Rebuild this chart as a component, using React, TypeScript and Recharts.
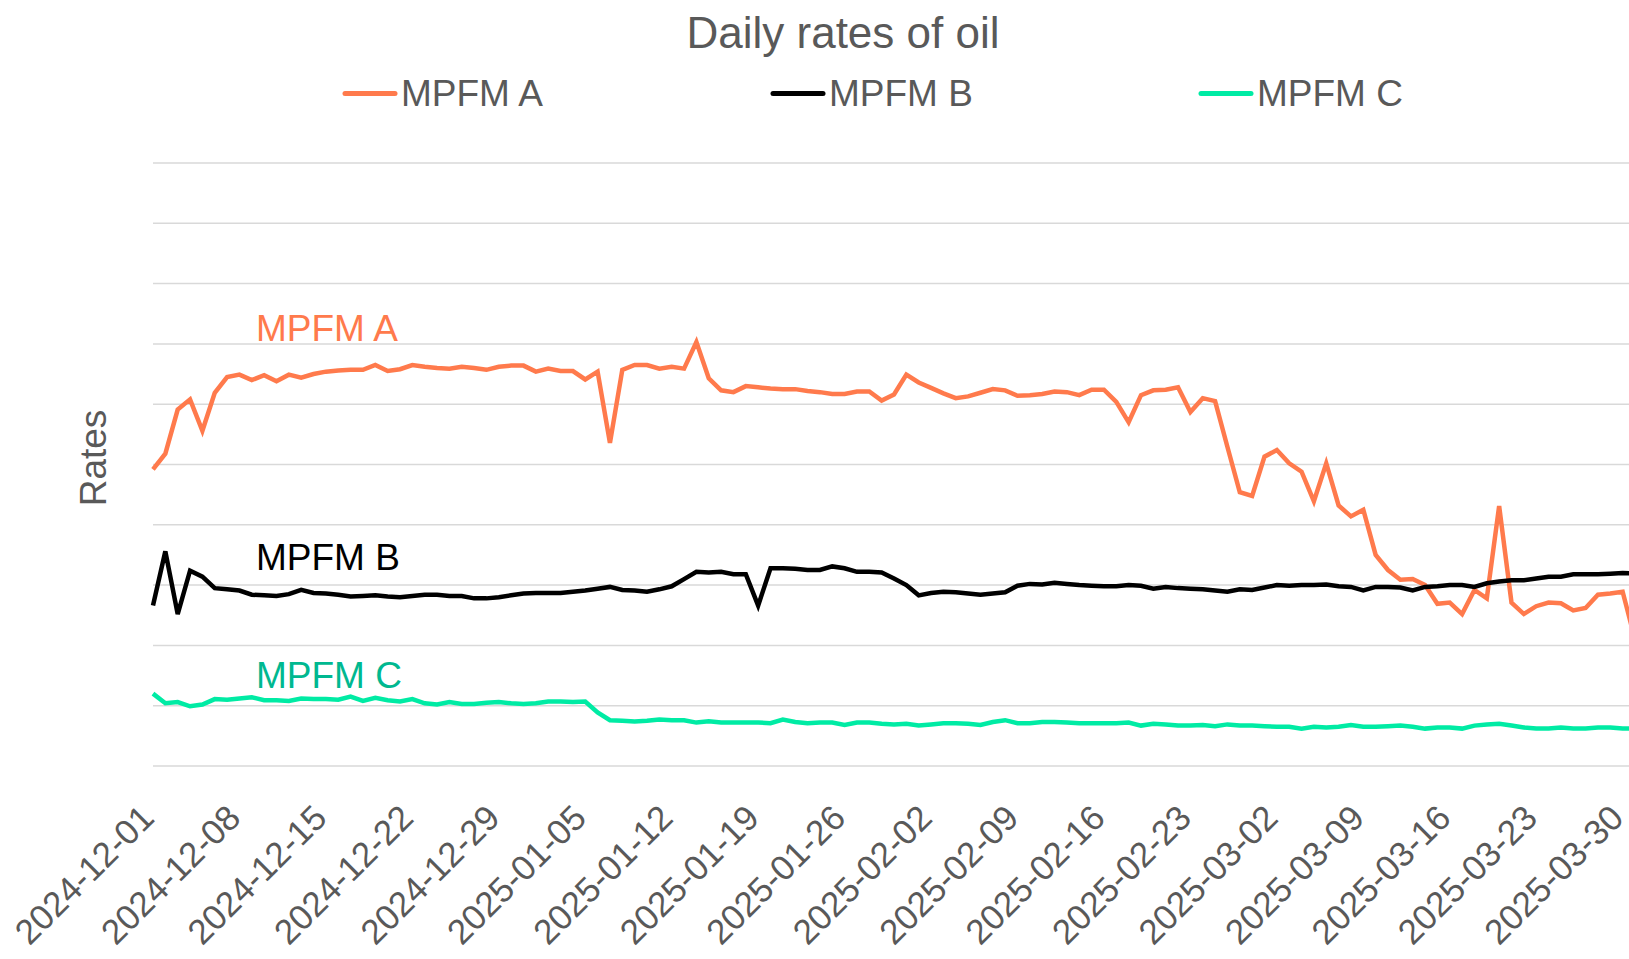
import React from 'react'
import { LineChart, Line, XAxis, YAxis, CartesianGrid } from 'recharts'

// daily dates, 2024-12-01 .. 2025-03-31
const startDate = '2024-12-01'
const dayCount = 121

const weekTicks = [
    '2024-12-01', '2024-12-08', '2024-12-15', '2024-12-22', '2024-12-29',
    '2025-01-05', '2025-01-12', '2025-01-19', '2025-01-26', '2025-02-02',
    '2025-02-09', '2025-02-16', '2025-02-23', '2025-03-02', '2025-03-09',
    '2025-03-16', '2025-03-23', '2025-03-30',
]

const mpfmA = [
    49.2, 51.8, 59.1, 60.8, 55.6, 61.9, 64.5, 64.9, 64.0, 64.8,
    63.8, 64.9, 64.4, 65.0, 65.4, 65.6, 65.7, 65.7, 66.5, 65.5,
    65.8, 66.5, 66.2, 66.0, 65.9, 66.2, 66.0, 65.7, 66.2, 66.4,
    66.4, 65.4, 65.9, 65.5, 65.5, 64.1, 65.4, 53.6, 65.7, 66.5,
    66.5, 65.9, 66.2, 65.9, 70.3, 64.3, 62.3, 62.0, 63.0, 62.8,
    62.6, 62.5, 62.5, 62.2, 62.0, 61.7, 61.7, 62.1, 62.1, 60.6,
    61.6, 64.9, 63.6, 62.7, 61.8, 61.0, 61.3, 61.9, 62.5, 62.3,
    61.4, 61.5, 61.7, 62.1, 62.0, 61.5, 62.4, 62.4, 60.4, 57.0,
    61.5, 62.3, 62.4, 62.8, 58.7, 61.0, 60.5, 52.9, 45.4, 44.8,
    51.3, 52.4, 50.2, 48.8, 43.9, 50.2, 43.2, 41.4, 42.5, 35.0,
    32.5, 30.9, 31.0, 30.0, 26.9, 27.1, 25.2, 29.2, 27.8, 43.1,
    27.1, 25.2, 26.5, 27.1, 27.0, 25.8, 26.2, 28.4, 28.6, 28.9,
    21.0,
]

const mpfmB = [
    26.6, 35.6, 25.2, 32.4, 31.4, 29.5, 29.3, 29.1, 28.4, 28.3,
    28.2, 28.5, 29.2, 28.7, 28.6, 28.4, 28.1, 28.2, 28.3, 28.1,
    28.0, 28.2, 28.4, 28.4, 28.2, 28.2, 27.8, 27.8, 28.0, 28.3,
    28.6, 28.7, 28.7, 28.7, 28.9, 29.1, 29.4, 29.7, 29.2, 29.1,
    28.9, 29.3, 29.8, 31.0, 32.2, 32.1, 32.2, 31.8, 31.8, 26.6,
    32.8, 32.8, 32.7, 32.5, 32.5, 33.1, 32.8, 32.2, 32.2, 32.1,
    31.1, 30.0, 28.3, 28.7, 28.9, 28.8, 28.6, 28.4, 28.6, 28.8,
    29.9, 30.2, 30.1, 30.4, 30.2, 30.0, 29.9, 29.8, 29.8, 30.0,
    29.9, 29.4, 29.7, 29.5, 29.4, 29.3, 29.1, 28.9, 29.3, 29.2,
    29.6, 30.0, 29.9, 30.0, 30.0, 30.1, 29.8, 29.7, 29.1, 29.7,
    29.7, 29.6, 29.1, 29.7, 29.8, 30.0, 30.0, 29.7, 30.3, 30.6,
    30.8, 30.8, 31.1, 31.4, 31.4, 31.8, 31.8, 31.8, 31.9, 32.0,
    31.9,
]

const mpfmC = [
    12.0, 10.4, 10.6, 9.9, 10.2, 11.1, 11.0, 11.2, 11.4, 10.9,
    10.9, 10.8, 11.2, 11.1, 11.1, 11.0, 11.5, 10.8, 11.3, 10.9,
    10.7, 11.1, 10.4, 10.2, 10.6, 10.3, 10.3, 10.5, 10.6, 10.4,
    10.3, 10.4, 10.7, 10.7, 10.6, 10.7, 8.9, 7.6, 7.5, 7.4,
    7.5, 7.7, 7.6, 7.6, 7.2, 7.4, 7.2, 7.2, 7.2, 7.2,
    7.1, 7.7, 7.3, 7.1, 7.2, 7.2, 6.8, 7.2, 7.2, 7.0,
    6.9, 7.0, 6.7, 6.9, 7.1, 7.1, 7.0, 6.8, 7.3, 7.6,
    7.1, 7.1, 7.3, 7.3, 7.2, 7.1, 7.1, 7.1, 7.1, 7.2,
    6.7, 7.0, 6.9, 6.7, 6.7, 6.8, 6.6, 6.9, 6.7, 6.7,
    6.6, 6.5, 6.5, 6.2, 6.5, 6.4, 6.5, 6.8, 6.5, 6.5,
    6.6, 6.7, 6.5, 6.2, 6.4, 6.4, 6.2, 6.7, 6.9, 7.0,
    6.7, 6.4, 6.2, 6.2, 6.4, 6.2, 6.2, 6.4, 6.4, 6.2,
    6.2,
]

const yTicks = [0, 10, 20, 30, 40, 50, 60, 70, 80, 90, 100]

const colorA = '#FF7A4C'
const colorB = '#000000'
const colorC = '#00EBA4'
const colorCLabel = '#00B890'
const greyText = '#595959'
const font = '"Liberation Sans", Arial, sans-serif'

function buildDates(start: string, count: number) {
    const out: string[] = []
    const d = new Date(start + 'T00:00:00Z')
    for (let i = 0; i < count; i++) {
        out.push(d.toISOString().slice(0, 10))
        d.setUTCDate(d.getUTCDate() + 1)
    }
    return out
}

const dates = buildDates(startDate, dayCount)
const data = dates.map((date, i) => ({ date, a: mpfmA[i], b: mpfmB[i], c: mpfmC[i] }))

// grid rows at the y-axis tick values, placed through the axis scale
const gridRows = ({ yAxis, offset }: any) =>
    yTicks.map(v =>
        yAxis && typeof yAxis.scale === 'function'
            ? yAxis.scale(v)
            : offset.top + offset.height * (1 - v / 100)
    )

const DateTick = (props: any) => {
    const { x, y, payload } = props
    return (
        <text
            x={x + 3}
            y={y + 46}
            transform={`rotate(-45, ${x + 3}, ${y + 46})`}
            textAnchor='end'
            fontSize={35}
            fontFamily={font}
            fill={greyText}
        >
            {payload.value}
        </text>
    )
}

const legendItems = [
    { name: 'MPFM A', color: colorA, left: 342 },
    { name: 'MPFM B', color: colorB, left: 770 },
    { name: 'MPFM C', color: colorC, left: 1198 },
]

const notes = [
    { text: 'MPFM A', color: colorA, top: 310 },
    { text: 'MPFM B', color: colorB, top: 539 },
    { text: 'MPFM C', color: colorCLabel, top: 657 },
]

export default function App() {
    return (
        <div style={{ position: 'absolute', left: 0, top: 0, width: 1629, height: 959, overflow: 'hidden', background: '#fff', fontFamily: font }}>
            <div style={{ position: 'absolute', left: 443, top: 11, width: 800, textAlign: 'center', fontSize: 44, lineHeight: '44px', color: greyText }}>
                Daily rates of oil
            </div>
            {legendItems.map(item => (
                <div key={item.name} style={{ position: 'absolute', left: item.left, top: 75, height: 37, display: 'flex', alignItems: 'center' }}>
                    <svg width={56} height={37}>
                        <line x1={3} y1={18.5} x2={53} y2={18.5} stroke={item.color} strokeWidth={5} strokeLinecap='round' />
                    </svg>
                    <span style={{ fontSize: 37, lineHeight: '37px', color: greyText, marginLeft: 3 }}>{item.name}</span>
                </div>
            ))}
            <div style={{ position: 'absolute', left: 93, top: 458, transform: 'translate(-50%, -50%) rotate(-90deg)', fontSize: 37, lineHeight: '37px', color: greyText, whiteSpace: 'nowrap' }}>
                Rates
            </div>
            <LineChart
                width={1635}
                height={959}
                data={data}
                margin={{ top: 163, right: 0, bottom: 0, left: 153 }}
            >
                <CartesianGrid vertical={false} horizontalCoordinatesGenerator={gridRows} stroke='#D9D9D9' strokeWidth={1.5} />
                <XAxis
                    dataKey='date'
                    ticks={weekTicks}
                    interval={0}
                    tick={<DateTick />}
                    axisLine={false}
                    tickLine={false}
                    height={193}
                />
                <YAxis
                    domain={[0, 100]}
                    ticks={yTicks}
                    interval={0}
                    width={0}
                    tick={false}
                    axisLine={false}
                    tickLine={false}
                />
                <Line type='linear' dataKey='a' stroke={colorA} strokeWidth={4.5} dot={false} isAnimationActive={false} />
                <Line type='linear' dataKey='b' stroke={colorB} strokeWidth={4.5} dot={false} isAnimationActive={false} />
                <Line type='linear' dataKey='c' stroke={colorC} strokeWidth={4.5} dot={false} isAnimationActive={false} />
            </LineChart>
            {notes.map(n => (
                <div key={n.text} style={{ position: 'absolute', left: 256, top: n.top, fontSize: 37, lineHeight: '37px', color: n.color }}>
                    {n.text}
                </div>
            ))}
        </div>
    )
}
